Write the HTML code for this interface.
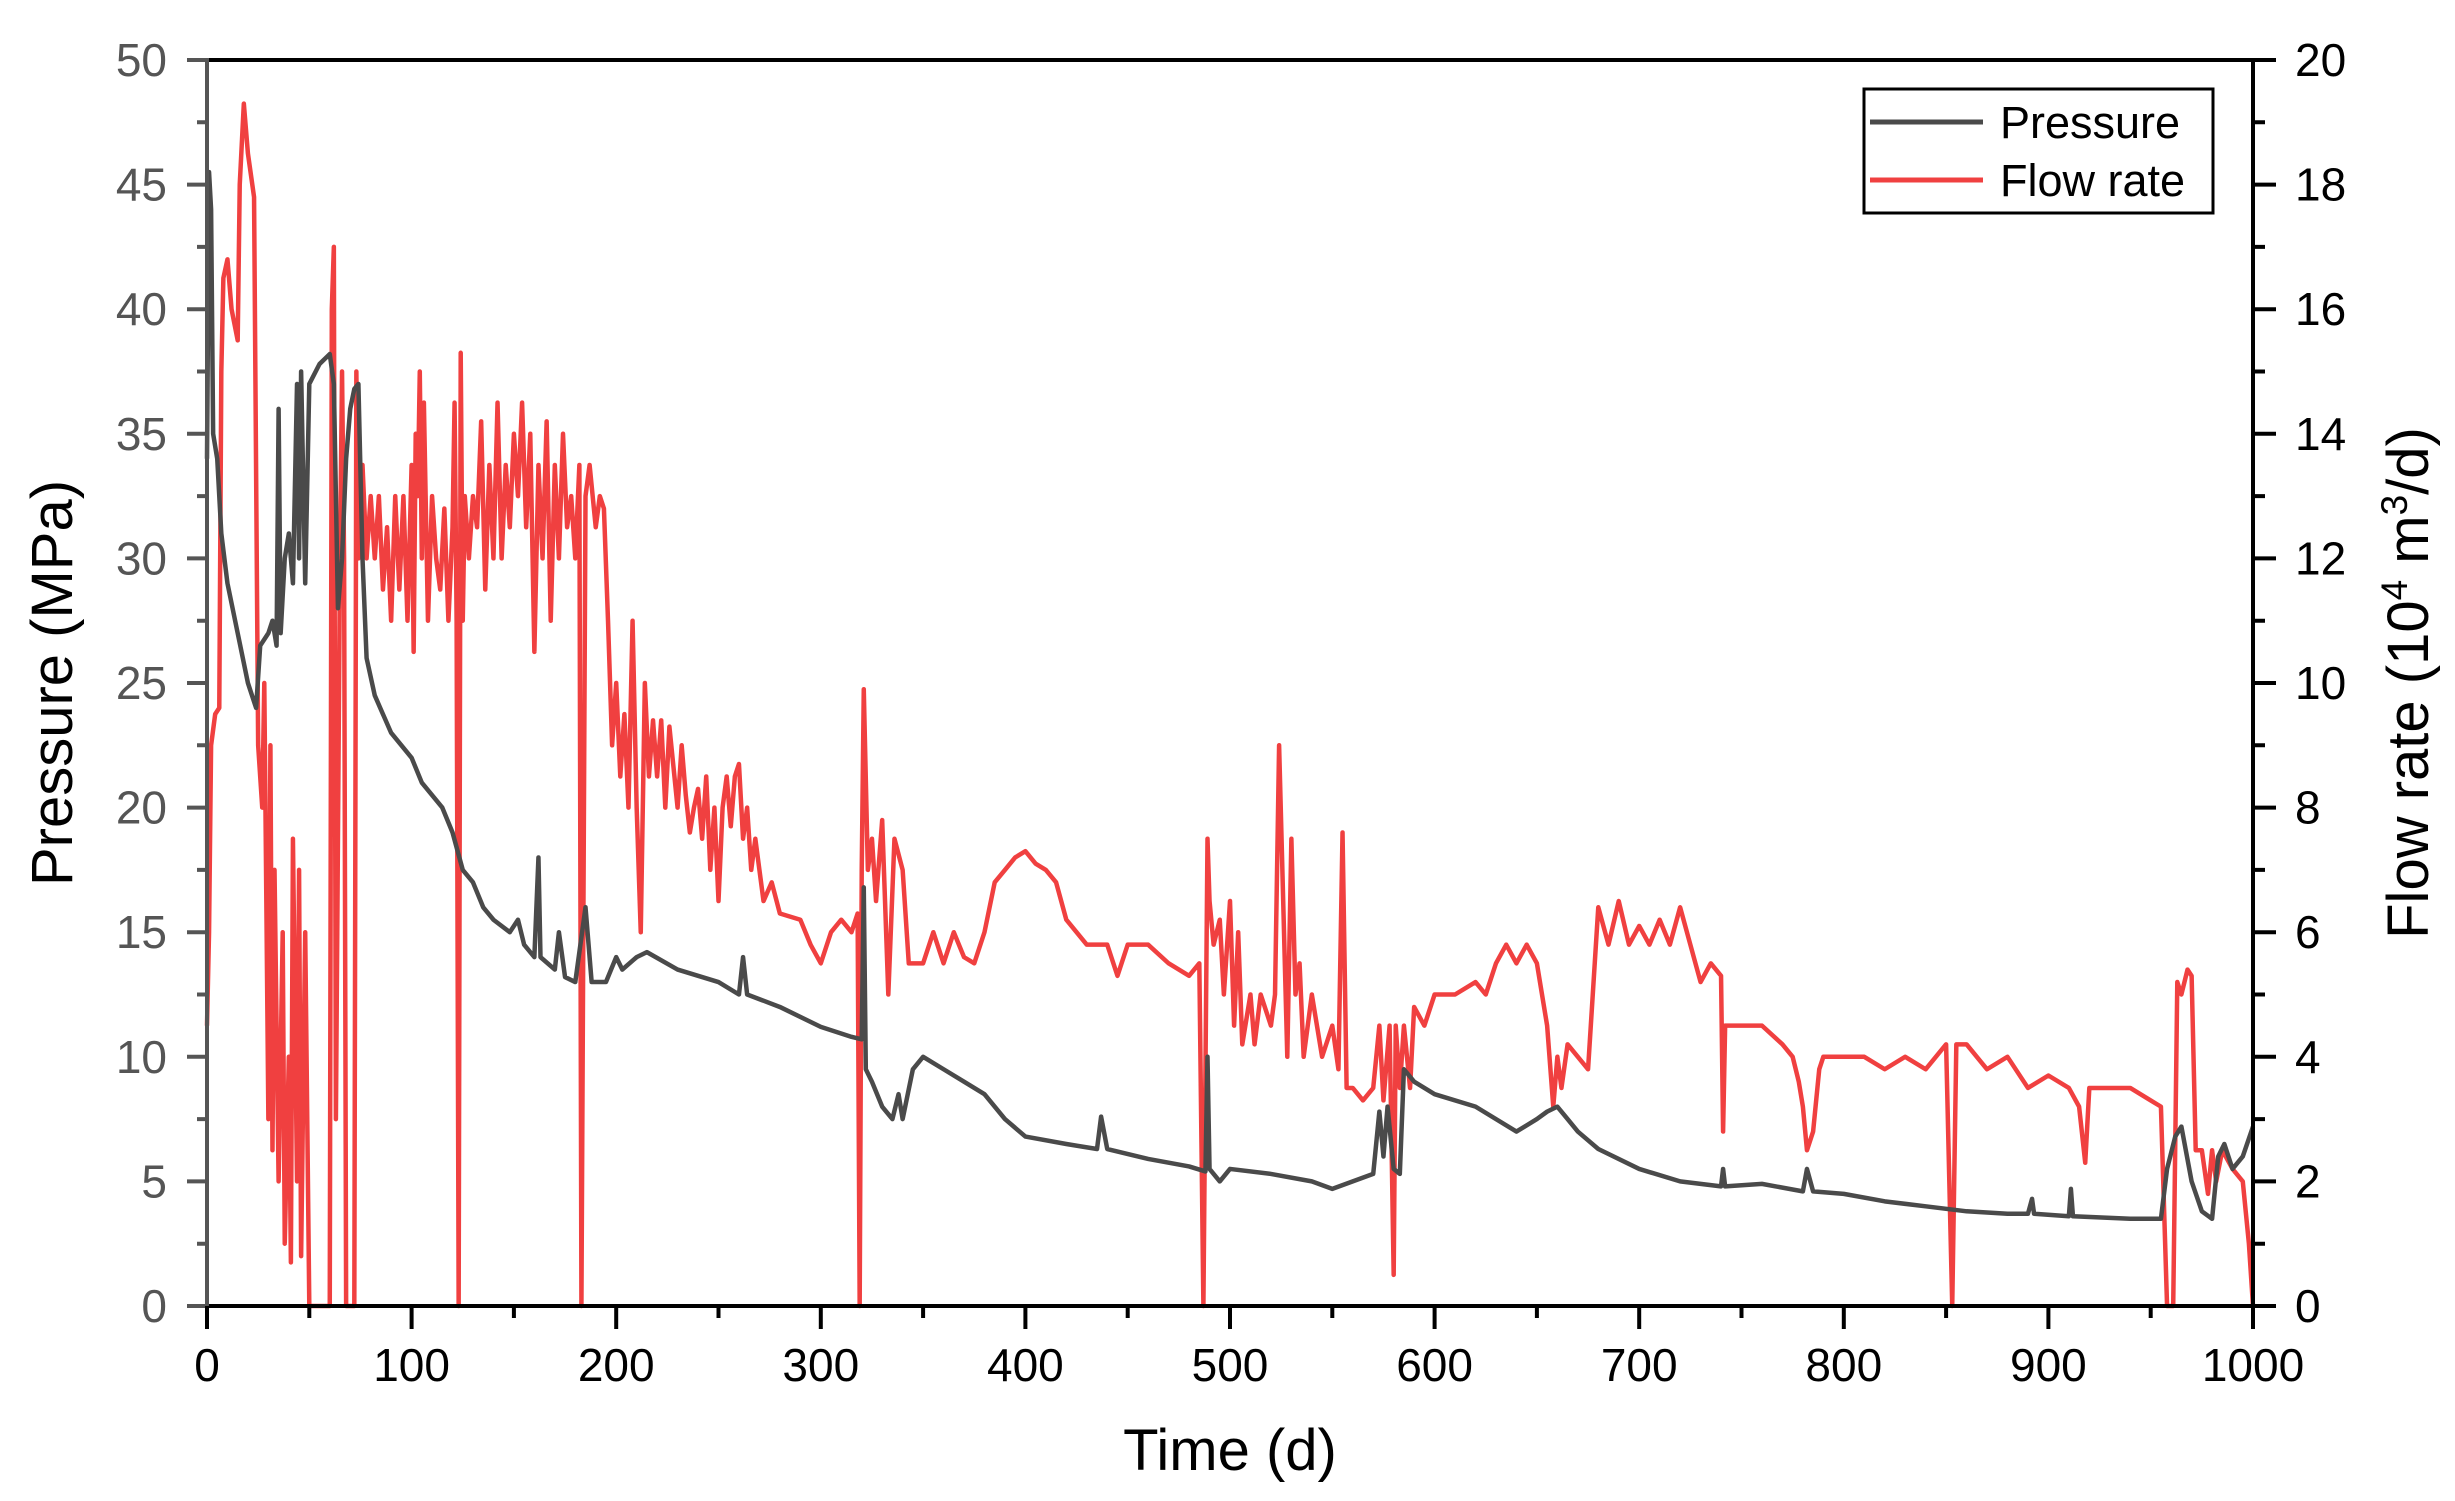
<!DOCTYPE html>
<html><head><meta charset="utf-8"><style>
html,body{margin:0;padding:0;background:#fff;}
svg{display:block;font-family:"Liberation Sans",Arial,sans-serif;}
</style></head><body>
<svg xmlns="http://www.w3.org/2000/svg" width="2455" height="1501" viewBox="0 0 2455 1501">
<rect width="2455" height="1501" fill="#fff"/>
<g transform="translate(207,1306) scale(2.046,-62.3)">
<polyline fill="none" stroke="#f04040" stroke-width="4.5" vector-effect="non-scaling-stroke" stroke-linejoin="round" points="0,4.5 1,6 2,9 4,9.5 6,9.6 7,15 8,16.5 10,16.8 12,16 15,15.5 16,18 18,19.3 20,18.5 23,17.8 25,9 27,8 28,10 30,3 31,9 32,2.5 33,7 35,2 37,6 38,1 40,4 41,0.7 42,7.5 44,2 45,7 46,0.8 48,6 50,0 55,0 60,0 61,16 62,17 63,3 65,12 66,15 67,12 68,0 72,0 73,15 74,12 76,13.5 78,12 80,13 82,12 84,13 86,11.5 88,12.5 90,11 92,13 94,11.5 96,13 98,11 100,13.5 101,10.5 102,14 103,13 104,15 105,12 106,14.5 108,11 110,13 112,12 114,11.5 116,12.8 118,11 120,12.5 121,14.5 122,11 123,0 124,15.3 125,11 126,13 128,12 130,13 132,12.5 134,14.2 136,11.5 138,13.5 140,12 142,14.5 144,12 146,13.5 148,12.5 150,14 152,13 154,14.5 156,12.5 158,14 160,10.5 162,13.5 164,12 166,14.2 168,11 170,13.5 172,12 174,14 176,12.5 178,13 180,12 182,13.5 183,0 185,13 187,13.5 190,12.5 192,13 194,12.8 196,11 198,9 200,10 202,8.5 204,9.5 206,8 208,11 210,8 212,6 214,10 216,8.5 218,9.4 220,8.5 222,9.4 224,8 226,9.3 230,8 232,9 234,8.2 236,7.6 238,8 240,8.3 242,7.5 244,8.5 246,7 248,8 250,6.5 252,8 254,8.5 256,7.7 258,8.5 260,8.7 262,7.5 264,8 266,7 268,7.5 270,7 272,6.5 276,6.8 280,6.3 290,6.2 295,5.8 300,5.5 305,6 310,6.2 315,6 318,6.3 319,0 320,7 321,9.9 323,7 325,7.5 327,6.5 330,7.8 333,5 336,7.5 340,7 343,5.5 346,5.5 350,5.5 355,6 360,5.5 365,6 370,5.6 375,5.5 380,6 385,6.8 390,7 395,7.2 400,7.3 405,7.1 410,7 415,6.8 420,6.2 425,6 430,5.8 440,5.8 445,5.3 450,5.8 460,5.8 470,5.5 480,5.3 485,5.5 487,0 489,7.5 490,6.5 492,5.8 495,6.2 497,5 500,6.5 502,4.5 504,6 506,4.2 510,5 512,4.2 515,5 520,4.5 522,5 524,9 526,6.5 528,4 530,7.5 532,5 534,5.5 536,4 540,5 545,4 550,4.5 553,3.8 555,7.6 557,3.5 560,3.5 565,3.3 570,3.5 573,4.5 575,3.3 578,4.5 580,0.5 581,4.5 583,3.5 585,4.5 588,3.5 590,4.8 595,4.5 600,5 610,5 620,5.2 625,5 630,5.5 635,5.8 640,5.5 645,5.8 650,5.5 655,4.5 658,3.2 660,4 662,3.5 665,4.2 670,4 675,3.8 680,6.4 685,5.8 690,6.5 695,5.8 700,6.1 705,5.8 710,6.2 715,5.8 720,6.4 725,5.8 730,5.2 735,5.5 740,5.3 741,2.8 742,4.5 745,4.5 750,4.5 760,4.5 770,4.2 775,4 778,3.6 780,3.2 782,2.5 785,2.8 788,3.8 790,4 800,4 810,4 820,3.8 830,4 840,3.8 850,4.2 853,0 855,4.2 860,4.2 870,3.8 880,4 890,3.5 900,3.7 910,3.5 915,3.2 918,2.3 920,3.5 930,3.5 940,3.5 950,3.3 955,3.2 958,0 961,0 963,5.2 965,5 968,5.4 970,5.3 972,2.5 975,2.5 978,1.8 980,2.5 982,2 985,2.5 990,2.2 995,2 998,1 1000,0"/>
</g>
<g transform="translate(207,1306) scale(2.046,-24.92)">
<polyline fill="none" stroke="#4a4a4a" stroke-width="4.5" vector-effect="non-scaling-stroke" stroke-linejoin="round" points="0,34 1,45.5 2,44 3,35 5,34 7,31 10,29 15,27 20,25 24,24 26,26.5 30,27 32,27.5 34,26.5 35,36 36,27 38,30 40,31 42,29 44,37 45,30 46,37.5 48,29 50,37 55,37.8 60,38.2 62,37 64,28 66,30 68,34 70,36 72,36.8 74,37 76,30 78,26 82,24.5 90,23 100,22 105,21 115,20 120,19 125,17.5 130,17 135,16 140,15.5 148,15 152,15.5 155,14.5 160,14 162,18 163,14 170,13.5 172,15 175,13.2 180,13 185,16 188,13 195,13 200,14 203,13.5 210,14 215,14.2 230,13.5 250,13 260,12.5 262,14 264,12.5 280,12 300,11.2 315,10.8 320,10.7 321,16.8 322,9.5 325,9 330,8 335,7.5 338,8.5 340,7.5 345,9.5 350,10 360,9.5 370,9 380,8.5 390,7.5 400,6.8 420,6.5 435,6.3 437,7.6 440,6.3 460,5.9 480,5.6 488,5.4 489,10 490,5.5 495,5 500,5.5 520,5.3 540,5 550,4.7 560,5 570,5.3 573,7.8 575,6 577,8 580,5.5 583,5.3 585,9.5 590,9 600,8.5 620,8 640,7 650,7.5 655,7.8 660,8 665,7.5 670,7 680,6.3 700,5.5 720,5 740,4.8 741,5.5 742,4.8 760,4.9 780,4.6 782,5.5 785,4.6 800,4.5 820,4.2 840,4 860,3.8 880,3.7 890,3.7 892,4.3 893,3.7 910,3.6 911,4.7 912,3.6 940,3.5 955,3.5 958,5.5 962,6.8 965,7.2 970,5 975,3.8 980,3.5 983,6 986,6.5 990,5.5 995,6 1000,7.2"/>
</g>
<line x1="205" y1="60" x2="2255" y2="60" stroke="#000" stroke-width="4"/>
<line x1="205" y1="1306" x2="2255" y2="1306" stroke="#000" stroke-width="4"/>
<line x1="2253" y1="58" x2="2253" y2="1308" stroke="#000" stroke-width="4"/>
<line x1="207" y1="58" x2="207" y2="1308" stroke="#555" stroke-width="4"/>
<g stroke="#555" stroke-width="4">
<path d="M187 60h20M187 184.6h20M187 309.2h20M187 433.8h20M187 558.4h20M187 683h20M187 807.6h20M187 932.2h20M187 1056.8h20M187 1181.4h20M187 1306h20"/>
<path d="M197 122.3h10M197 246.9h10M197 371.5h10M197 496.1h10M197 620.7h10M197 745.3h10M197 869.9h10M197 994.5h10M197 1119.1h10M197 1243.7h10"/>
</g>
<g stroke="#000" stroke-width="4">
<path d="M2253 60h23M2253 184.6h23M2253 309.2h23M2253 433.8h23M2253 558.4h23M2253 683h23M2253 807.6h23M2253 932.2h23M2253 1056.8h23M2253 1181.4h23M2253 1306h23"/>
<path d="M2253 122.3h12M2253 246.9h12M2253 371.5h12M2253 496.1h12M2253 620.7h12M2253 745.3h12M2253 869.9h12M2253 994.5h12M2253 1119.1h12M2253 1243.7h12"/>
<path d="M207 1306v23M411.6 1306v23M616.2 1306v23M820.8 1306v23M1025.4 1306v23M1230 1306v23M1434.6 1306v23M1639.2 1306v23M1843.8 1306v23M2048.4 1306v23M2253 1306v23"/>
<path d="M309.3 1306v12M513.9 1306v12M718.5 1306v12M923.1 1306v12M1127.7 1306v12M1332.3 1306v12M1536.9 1306v12M1741.5 1306v12M1946.1 1306v12M2150.7 1306v12"/>
</g>
<g font-size="46" fill="#555" text-anchor="end">
<text x="167" y="76">50</text><text x="167" y="200.6">45</text><text x="167" y="325.2">40</text><text x="167" y="449.8">35</text><text x="167" y="574.4">30</text><text x="167" y="699">25</text><text x="167" y="823.6">20</text><text x="167" y="948.2">15</text><text x="167" y="1072.8">10</text><text x="167" y="1197.4">5</text><text x="167" y="1322">0</text>
</g>
<g font-size="46" fill="#000" text-anchor="start">
<text x="2295" y="76">20</text><text x="2295" y="200.6">18</text><text x="2295" y="325.2">16</text><text x="2295" y="449.8">14</text><text x="2295" y="574.4">12</text><text x="2295" y="699">10</text><text x="2295" y="823.6">8</text><text x="2295" y="948.2">6</text><text x="2295" y="1072.8">4</text><text x="2295" y="1197.4">2</text><text x="2295" y="1322">0</text>
</g>
<g font-size="46" fill="#000" text-anchor="middle">
<text x="207" y="1381">0</text><text x="411.6" y="1381">100</text><text x="616.2" y="1381">200</text><text x="820.8" y="1381">300</text><text x="1025.4" y="1381">400</text><text x="1230" y="1381">500</text><text x="1434.6" y="1381">600</text><text x="1639.2" y="1381">700</text><text x="1843.8" y="1381">800</text><text x="2048.4" y="1381">900</text><text x="2253" y="1381">1000</text>
</g>
<text x="1230" y="1470" font-size="58" text-anchor="middle">Time (d)</text>
<text transform="translate(72,683) rotate(-90)" font-size="58" text-anchor="middle">Pressure (MPa)</text>
<text transform="translate(2428,683) rotate(-90)" font-size="58" text-anchor="middle">Flow rate (10<tspan font-size="37" dy="-21">4</tspan><tspan dy="21"> m</tspan><tspan font-size="37" dy="-21">3</tspan><tspan dy="21">/d)</tspan></text>
<rect x="1864" y="89" width="349" height="124" fill="#fff" stroke="#000" stroke-width="3"/>
<line x1="1870" y1="122" x2="1983" y2="122" stroke="#4a4a4a" stroke-width="5"/>
<line x1="1870" y1="180" x2="1983" y2="180" stroke="#f04040" stroke-width="5"/>
<text x="2000" y="138" font-size="45">Pressure</text>
<text x="2000" y="196" font-size="45">Flow rate</text>
</svg>
</body></html>
